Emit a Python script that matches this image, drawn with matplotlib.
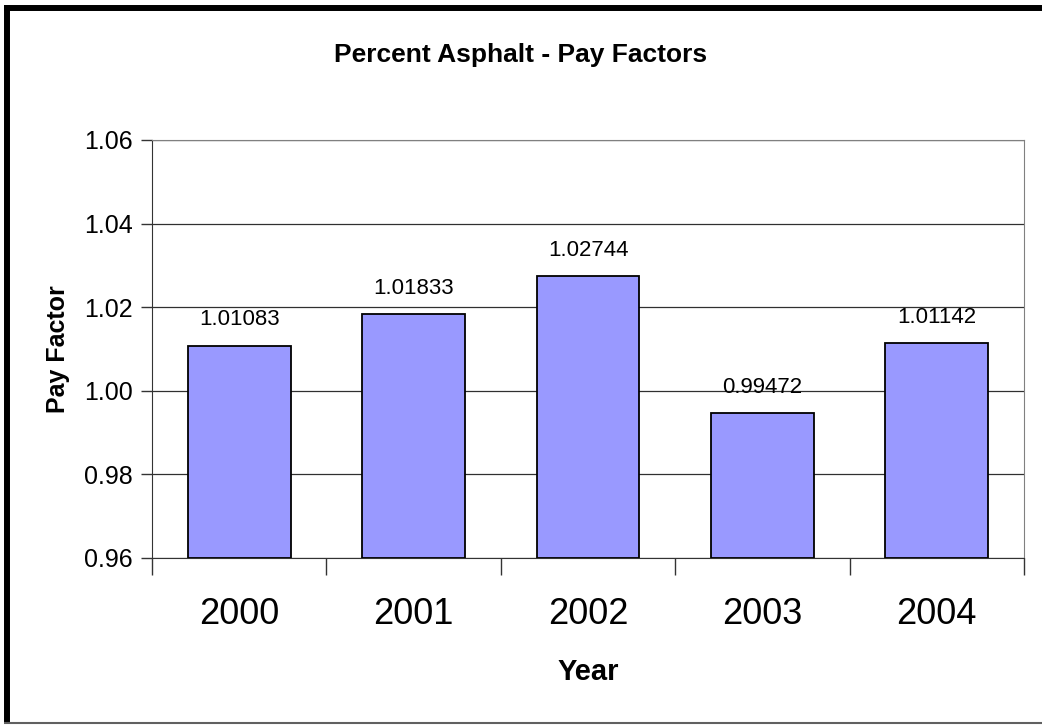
import matplotlib.pyplot as plt
from matplotlib.lines import Line2D

years = ['2000', '2001', '2002', '2003', '2004']
pay_factors = [1.01083, 1.01833, 1.02744, 0.99472, 1.01142]
y_ticks = [0.96, 0.98, 1.00, 1.02, 1.04, 1.06]

plt.rcParams['font.family'] = ['Liberation Sans', 'DejaVu Sans']

W, H = 1042, 725
fig = plt.figure(figsize=(W / 100, H / 100), dpi=100)
ax = fig.add_axes([152/W, 1 - 558/H, (1024 - 152)/W, (558 - 140)/H])

x = list(range(len(years)))
ax.bar(x, [v - 0.96 for v in pay_factors], bottom=0.96, width=0.59,
       color='#9999FF', edgecolor='black', linewidth=1.3, zorder=3)

for xi, v in zip(x, pay_factors):
    ax.annotate(f'{v:.5f}', (xi, v), xytext=(0, 11), textcoords='offset points',
                ha='center', va='bottom', fontsize=16)

ax.set_xlim(-0.5, len(years) - 0.5)
ax.set_ylim(0.96, 1.06)
ax.set_yticks(y_ticks)
ax.set_yticklabels([f'{t:.2f}' for t in y_ticks], fontsize=18)
ax.yaxis.grid(True, color='#303030', linewidth=0.9, zorder=0)
ax.set_axisbelow(True)

# category boundaries as ticks, labels in the middle
ax.set_xticks([i - 0.5 for i in range(len(years) + 1)])
ax.set_xticklabels([])
ax.set_xticks(x, minor=True)
ax.set_xticklabels(years, minor=True, fontsize=26)
ax.tick_params(axis='x', which='major', length=12, width=1, color='#333333', direction='out')
ax.tick_params(axis='x', which='minor', length=0, pad=28)
ax.tick_params(axis='y', length=8, width=1, color='#333333', pad=6)

for side in ['top', 'right']:
    ax.spines[side].set_color('#808080')
ax.spines['left'].set_color('#333333')
ax.spines['bottom'].set_color('#333333')

ax.set_ylabel('Pay Factor', fontsize=18, fontweight='bold', labelpad=10)
ax.set_xlabel('Year', fontsize=21, fontweight='bold', labelpad=19)
fig.text(0.5, 1 - 55/H, 'Percent Asphalt - Pay Factors', ha='center', va='center',
         fontsize=19, fontweight='bold')

# outer chart frame: thick left/top, thin grey bottom
fig.add_artist(Line2D([7/W, 7/W], [2/H, 1 - 5/H], color='black', linewidth=4.3,
                      transform=fig.transFigure, solid_capstyle='butt'))
fig.add_artist(Line2D([4/W, 1], [1 - 8/H, 1 - 8/H], color='black', linewidth=4.3,
                      transform=fig.transFigure, solid_capstyle='butt'))
fig.add_artist(Line2D([4/W, 1], [2/H, 2/H], color='#606060', linewidth=1.5,
                      transform=fig.transFigure, solid_capstyle='butt'))

fig.savefig('out.png', dpi=100)
